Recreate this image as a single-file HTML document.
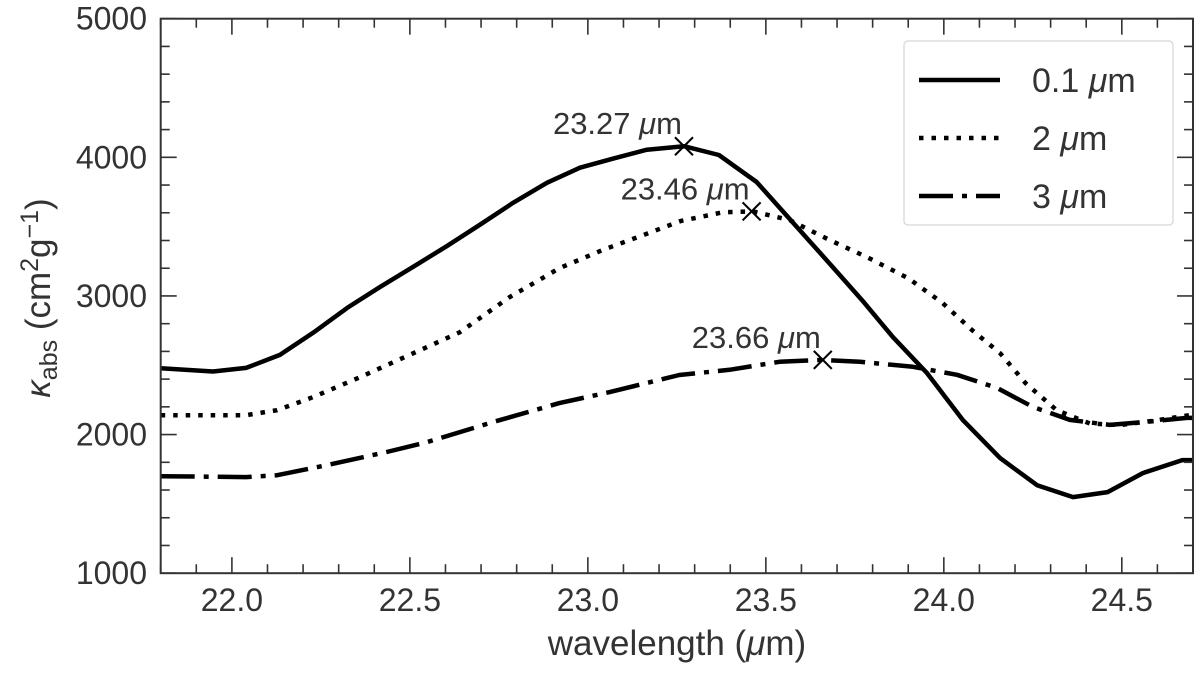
<!DOCTYPE html>
<html><head><meta charset="utf-8"><style>
html,body{margin:0;padding:0;background:#fff;}
svg{display:block;font-family:"Liberation Sans","DejaVu Sans",sans-serif;}
</style></head><body>
<svg id="chart" width="1200" height="674" viewBox="0 0 1200 674" xmlns="http://www.w3.org/2000/svg"></svg>
<script>
const lamSolid=[21.80,21.947,22.04,22.135,22.228,22.324,22.417,22.51,22.605,22.697,22.79,22.885,22.978,23.07,23.166,23.27,23.368,23.474,23.575,23.678,23.77,23.857,23.953,24.054,24.158,24.262,24.363,24.46,24.559,24.67,24.70];
const valSolid=[2479,2455,2481,2575,2734,2914,3066,3211,3362,3514,3672,3816,3925,3990,4055,4080,4017,3822,3533,3237,2970,2703,2443,2104,1830,1635,1549,1585,1722,1816,1816];
const lamDot=[21.80,21.826,22.04,22.127,22.228,22.36,22.51,22.64,22.78,22.92,23.04,23.155,23.26,23.38,23.464,23.567,23.68,23.784,23.90,23.997,24.08,24.158,24.23,24.317,24.41,24.495,24.60,24.69,24.70];
const valDot=[2140,2140,2140,2176,2270,2414,2587,2738,2991,3200,3330,3438,3540,3604,3610,3547,3402,3280,3128,2948,2752,2587,2370,2176,2080,2068,2104,2140,2140];
const lamDash=[21.80,22.04,22.127,22.267,22.435,22.548,22.733,22.92,23.06,23.257,23.398,23.538,23.66,23.764,23.913,24.037,24.149,24.25,24.354,24.466,24.57,24.683,24.70];
const valDash=[1700,1693,1707,1780,1874,1946,2090,2227,2306,2430,2467,2525,2539,2525,2489,2431,2337,2200,2106,2070,2092,2120,2120];
const peakLam=[23.27,23.46,23.66];
const peakVal=[4080,3610,2539];
const peakLabels=["23.27","23.46","23.66"];
const xTicks=[22.0,22.5,23.0,23.5,24.0,24.5];
const xTickLabels=["22.0","22.5","23.0","23.5","24.0","24.5"];
const yTicks=[1000,2000,3000,4000,5000];
const yTickLabels=["1000","2000","3000","4000","5000"];
const seriesNames=["0.1 μm","2 μm","3 μm"];

const L=160.7,R=1193,T=18.7,B=573.2;
const X0=21.8,X1=24.7,Y0=1000,Y1=5000;
const sx=v=>L+(v-X0)/(X1-X0)*(R-L);
const sy=v=>B-(v-Y0)/(Y1-Y0)*(B-T);
const NS="http://www.w3.org/2000/svg";
const svg=document.getElementById('chart');
function mk(tag,attrs,parent){const e=document.createElementNS(NS,tag);for(const k in attrs)e.setAttribute(k,attrs[k]);(parent||svg).appendChild(e);return e;}

const clip=mk('clipPath',{id:'pc'});mk('rect',{x:L,y:T,width:R-L,height:B-T},clip);

const styles=[{d:null,name:'line-0-1um'},{d:'4.5 8',name:'line-2um'},{d:'34 9 5 9',name:'line-3um'}];
const sets=[[lamSolid,valSolid],[lamDot,valDot],[lamDash,valDash]];
sets.forEach((s,i)=>{
  const pts=s[0].map((l,j)=>sx(l).toFixed(1)+','+sy(s[1][j]).toFixed(1)).join(' ');
  const p=mk('polyline',{points:pts,fill:'none',stroke:'#000','stroke-width':4.5,'stroke-linejoin':'round','clip-path':'url(#pc)'});
  if(styles[i].d)p.setAttribute('stroke-dasharray',styles[i].d);
  
  
});

peakLam.forEach((l,i)=>{
  const x=sx(l),y=sy(peakVal[i]),s=9;
  const g=mk('g',{stroke:'#000','stroke-width':2});
  
  
  mk('line',{x1:x-s,y1:y-s,x2:x+s,y2:y+s},g);mk('line',{x1:x-s,y1:y+s,x2:x+s,y2:y-s},g);
  const t=mk('text',{x:x-2,y:y-12,'text-anchor':'end','font-size':31,fill:'#333'});
  
  
  t.textContent=peakLabels[i]+' ';
  const ts=mk('tspan',{'font-style':'italic'},t);ts.textContent='μ';
  const ts2=mk('tspan',{},t);ts2.textContent='m';
});

const tg=mk('g',{stroke:'#333','stroke-width':1.6});


for(let k=0;k<=29;k++){const v=21.8+k*0.1;if(v>X1+1e-6)break;const x=sx(v);
  const major=xTicks.some(t=>Math.abs(t-v)<1e-6);const len=major?16:9;
  mk('line',{x1:x,y1:B,x2:x,y2:B-len},tg);mk('line',{x1:x,y1:T,x2:x,y2:T+len},tg);}
for(let v=1000;v<=5000;v+=200){const y=sy(v);const major=v%1000===0;const len=major?16:9;
  mk('line',{x1:L,y1:y,x2:L+len,y2:y},tg);mk('line',{x1:R,y1:y,x2:R-len,y2:y},tg);}
xTicks.forEach((v,i)=>{const t=mk('text',{x:sx(v),y:B+38,'text-anchor':'middle','font-size':32,fill:'#333'});
  t.textContent=xTickLabels[i];});
yTicks.forEach((v,i)=>{const t=mk('text',{x:147,y:sy(v)+11,'text-anchor':'end','font-size':32,fill:'#333'});
  t.textContent=yTickLabels[i];});

const fr=mk('rect',{x:L,y:T,width:R-L,height:B-T,fill:'none',stroke:'#333','stroke-width':2});


const xt=mk('text',{x:677,y:655,'text-anchor':'middle','font-size':35,fill:'#333'});

xt.innerHTML='wavelength (<tspan font-style="italic">μ</tspan>m)';
const yt=mk('text',{transform:'translate(50,298) rotate(-90)','text-anchor':'middle','font-size':35,fill:'#333'});

yt.innerHTML='<tspan font-style="italic">κ</tspan><tspan font-size="25" dy="7">abs</tspan><tspan dy="-7"> (cm</tspan><tspan font-size="25" dy="-12">2</tspan><tspan dy="12">g</tspan><tspan font-size="25" dy="-12">−1</tspan><tspan dy="12">)</tspan>';

const lg=mk('g',{});

mk('rect',{x:904,y:41,width:269,height:184,rx:4,fill:'#fff',stroke:'#ddd','stroke-width':1.5},lg);
const rows=[70,128,186];
rows.forEach((y,i)=>{
  const e=mk('g',{},lg);
  
  
  const ln=mk('line',{x1:919,y1:y+10,x2:1000,y2:y+10,stroke:'#000','stroke-width':4.5},e);
  if(styles[i].d)ln.setAttribute('stroke-dasharray',styles[i].d);
  const t=mk('text',{x:1032,y:y+22,'font-size':34,fill:'#333'},e);
  const parts=seriesNames[i].split('μ');
  t.innerHTML=parts[0]+'<tspan font-style="italic">μ</tspan>'+parts[1];
});
</script>
</body></html>
